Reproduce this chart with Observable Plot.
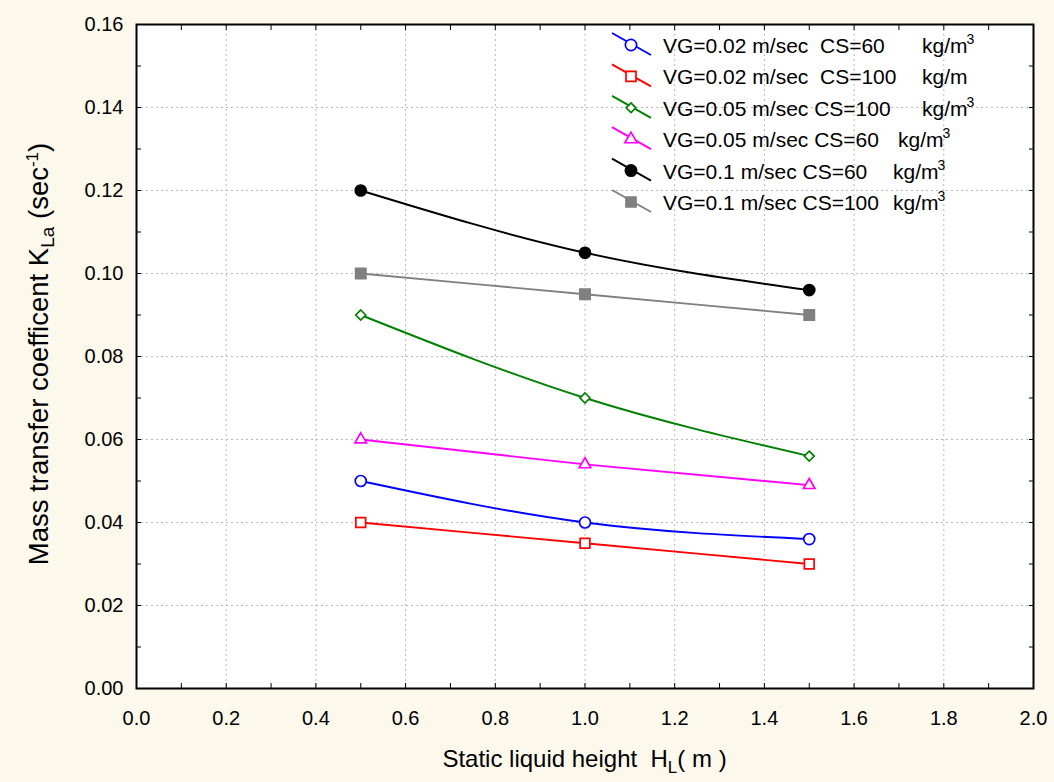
<!DOCTYPE html>
<html>
<head>
<meta charset="utf-8">
<script src="https://cdn.jsdelivr.net/npm/d3@7"></script>
<script src="https://cdn.jsdelivr.net/npm/@observablehq/plot@0.6"></script>
<style>
  html, body { margin: 0; padding: 0; background: #fdf8ec; }
  #wrap { position: relative; width: 1054px; height: 782px; }
  #wrap > svg { position: absolute; left: 0; top: 0; }
</style>
</head>
<body>
<div id="wrap"></div>
<script>
// ---- data ----
const heights = [0.5, 1.0, 1.5];
const vg002cs60  = [0.050, 0.040, 0.036];
const vg002cs100 = [0.040, 0.035, 0.030];
const vg005cs100 = [0.090, 0.070, 0.056];
const vg005cs60  = [0.060, 0.054, 0.049];
const vg01cs60   = [0.120, 0.105, 0.096];
const vg01cs100  = [0.100, 0.095, 0.090];

const seriesLabels = [
  "VG=0.02 m/sec  CS=60",
  "VG=0.02 m/sec  CS=100",
  "VG=0.05 m/sec CS=100",
  "VG=0.05 m/sec CS=60",
  "VG=0.1 m/sec CS=60",
  "VG=0.1 m/sec CS=100"
];
const unitLabels = ["kg/m", "kg/m", "kg/m", "kg/m", "kg/m", "kg/m"];
const unitSup = ["3", "", "3", "3", "3", "3"];
const seriesValues = [vg002cs60, vg002cs100, vg005cs100, vg005cs60, vg01cs60, vg01cs100];
const seriesColors = ["#0000ff", "#ff0000", "#008000", "#ff00ff", "#000000", "#808080"];
const seriesSymbols = ["circle", "square", "diamond2", "triangle", "circle", "square"];
const seriesFilled = [false, false, false, false, true, true];
const seriesR = [5.5, 5.5, 4.5, 4.3, 5.5, 5.8];

const xMajor = [0, 0.2, 0.4, 0.6, 0.8, 1.0, 1.2, 1.4, 1.6, 1.8, 2.0];
const xMinor = d3.range(0, 21).map(i => i / 10);
const yMajor = [0, 0.02, 0.04, 0.06, 0.08, 0.10, 0.12, 0.14, 0.16];
const yMinor = d3.range(0, 17).map(i => i / 100);

const xLabel = "Static liquid height  H";
const yLabel = "Mass transfer coefficent K";

// ---- table ----
const rows = [];
seriesValues.forEach((vals, s) => vals.forEach((v, i) => rows.push({s, x: heights[i], y: v})));

const marks = [
  Plot.frame({fill: "white"}),
  Plot.gridX(xMajor.filter(d => d > 0 && d < 2), {stroke: "#b8b8b8", strokeOpacity: 1, strokeDasharray: "2,3"}),
  Plot.gridY(yMajor.filter(d => d > 0 && d < 0.16), {stroke: "#b8b8b8", strokeOpacity: 1, strokeDasharray: "2,3"}),
  Plot.axisX({ticks: xMajor, tickSize: 0, tickPadding: 22, tickFormat: d => d.toFixed(1), label: null, fontSize: 20}),
  Plot.axisY({ticks: yMajor, tickSize: 0, tickPadding: 13, tickFormat: d => d.toFixed(2), label: null, fontSize: 20}),
  Plot.axisX({anchor: "bottom", ticks: xMinor, tickSize: -5, tickFormat: () => "", label: null}),
  Plot.axisX({anchor: "top", ticks: xMinor, tickSize: -5, tickFormat: () => "", label: null}),
  Plot.axisY({anchor: "left", ticks: yMinor, tickSize: -5, tickFormat: () => "", label: null}),
  Plot.axisY({anchor: "right", ticks: yMinor, tickSize: -5, tickFormat: () => "", label: null})
];
seriesValues.forEach((vals, s) => {
  const data = rows.filter(d => d.s === s);
  marks.push(Plot.line(data, {x: "x", y: "y", stroke: seriesColors[s], strokeWidth: 1.9, curve: "natural"}));
});
seriesValues.forEach((vals, s) => {
  const data = rows.filter(d => d.s === s);
  marks.push(Plot.dot(data, {
    x: "x", y: "y", symbol: () => seriesSymbols[s], r: seriesR[s],
    stroke: seriesColors[s], strokeWidth: 1.7,
    fill: seriesFilled[s] ? seriesColors[s] : "white"
  }));
});
marks.push(Plot.frame({stroke: "black", strokeWidth: 2}));

const chart = Plot.plot({
  width: 1054, height: 782,
  marginLeft: 136, marginRight: 21, marginTop: 24, marginBottom: 94,
  style: {background: "transparent", fontFamily: "'Liberation Sans', Arial, sans-serif", fontSize: "20px", color: "black"},
  x: {domain: [0, 2]},
  y: {domain: [0, 0.16]},
  marks
});
document.getElementById("wrap").appendChild(chart);

// ---- overlay: legend and axis titles ----
const ov = d3.select("#wrap").append("svg")
  .attr("width", 1054).attr("height", 782)
  .style("pointer-events", "none")
  .style("font-family", "'Liberation Sans', Arial, sans-serif");

const kgX = [922, 922, 922, 898, 893, 893];
seriesLabels.forEach((lab, i) => {
  const cy = 45 + i * 31.4;
  const g = ov.append("g");
  g.append("line").attr("x1", 612).attr("y1", cy - 12).attr("x2", 651).attr("y2", cy + 10)
    .attr("stroke", seriesColors[i]).attr("stroke-width", 1.9);
  const sym = d3.symbol().type({
    circle: d3.symbolCircle, square: d3.symbolSquare, diamond2: d3.symbolDiamond2, triangle: d3.symbolTriangle
  }[seriesSymbols[i]]).size(seriesSymbols[i] === "diamond2" ? 60 : seriesSymbols[i] === "triangle" ? 65 : 100);
  g.append("path").attr("d", sym()).attr("transform", `translate(631,${cy})`)
    .attr("stroke", seriesColors[i]).attr("stroke-width", 1.7)
    .attr("fill", seriesFilled[i] ? seriesColors[i] : "white");
  g.append("text").attr("x", 663).attr("y", cy + 8).attr("font-size", 21)
    .style("white-space", "pre").text(lab);
  const t = g.append("text").attr("x", kgX[i]).attr("y", cy + 8).attr("font-size", 21).text(unitLabels[i]);
  if (unitSup[i]) t.append("tspan").attr("dx", -1).attr("dy", -9).attr("font-size", 14).text(unitSup[i]);
});

// x axis title
const xt = ov.append("text").attr("x", 584.5).attr("y", 767).attr("text-anchor", "middle")
  .attr("font-size", 24).style("font-family", "'Liberation Sans Narrow', 'Arial Narrow', 'Liberation Sans', sans-serif")
  .style("white-space", "pre");
xt.append("tspan").text(xLabel);
xt.append("tspan").attr("dy", 6).attr("font-size", 17).text("L");
xt.append("tspan").attr("dy", -6).text("( m )");

// y axis title
const yt = ov.append("text").attr("transform", "translate(48,354) rotate(-90)").attr("text-anchor", "middle")
  .attr("font-size", 27.5).style("font-family", "'Liberation Sans Narrow', 'Arial Narrow', 'Liberation Sans', sans-serif");
yt.append("tspan").text(yLabel);
yt.append("tspan").attr("dy", 6).attr("font-size", 19).text("La");
yt.append("tspan").attr("dy", -6).text(" (sec");
yt.append("tspan").attr("dy", -10).attr("font-size", 17).text("-1");
yt.append("tspan").attr("dy", 10).text(")");
</script>
</body>
</html>
